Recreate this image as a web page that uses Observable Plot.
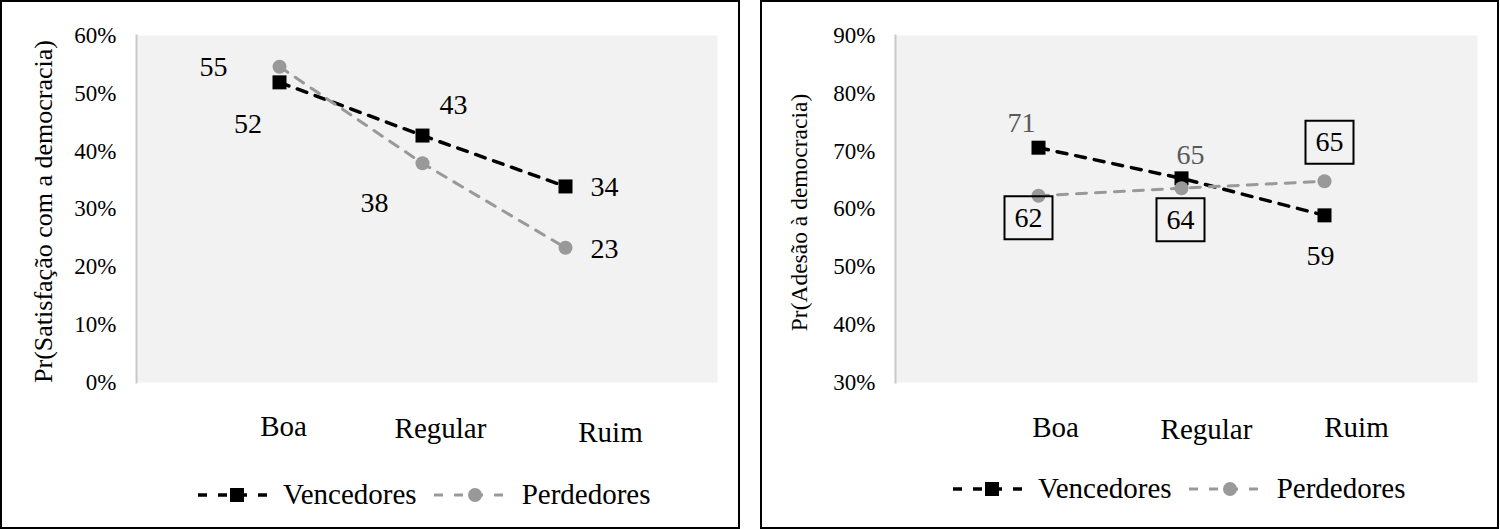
<!DOCTYPE html>
<html><head><meta charset="utf-8">
<script src="https://cdn.jsdelivr.net/npm/d3@7"></script>
<script src="https://cdn.jsdelivr.net/npm/@observablehq/plot@0.6"></script>
<style>
body{margin:0;width:1500px;height:529px;background:#fff;overflow:hidden;font-family:"Liberation Serif","Tinos","Times New Roman","DejaVu Serif",serif;}
.panel{position:absolute;top:0;height:529px;border:2px solid #000;box-sizing:border-box;background:#fff;}
.panel > svg{position:absolute;left:0;top:0;}
.panel svg text{font-family:"Liberation Serif","Tinos","Times New Roman","DejaVu Serif",serif;}
.legend{position:absolute;display:flex;align-items:center;font-size:29px;line-height:29px;white-space:nowrap;color:#000;}
.legend svg{display:block;}
.legend .t{margin-left:15px;}
.legend .gap{width:17px;}
</style></head><body>
<div class="panel" id="p1" style="left:0;width:740px"></div>
<div class="panel" id="p2" style="left:760px;width:739px"></div>
<script>
// ---------- data ----------
const categories = ["Boa", "Regular", "Ruim"];
const seriesNames = ["Vencedores", "Perdedores"];
const satisfacaoVencedores = [51.9, 42.7, 33.9];
const satisfacaoPerdedores = [54.6, 37.9, 23.3];
const adesaoVencedores = [70.6, 65.3, 58.9];
const adesaoPerdedores = [62.3, 63.6, 64.8];
const satisfacaoTicks = [0, 10, 20, 30, 40, 50, 60];
const adesaoTicks = [30, 40, 50, 60, 70, 80, 90];
const satisfacaoTitle = "Pr(Satisfação com a democracia)";
const adesaoTitle = "Pr(Adesão à democracia)";

function rowsOf(v, p) {
  const out = [];
  categories.forEach((c, i) => out.push({cat: c, series: seriesNames[0], value: v[i]}));
  categories.forEach((c, i) => out.push({cat: c, series: seriesNames[1], value: p[i]}));
  return out;
}

const FONT = "'Liberation Serif', 'Tinos', 'Times New Roman', 'DejaVu Serif', serif";
const BLACK = "#000000";
const GRAY = "#999999";

const boxSymbol = {
  draw(ctx) {
    ctx.moveTo(-24, -21.5); ctx.lineTo(24, -21.5); ctx.lineTo(24, 21.5); ctx.lineTo(-24, 21.5); ctx.closePath();
  }
};

function pick(rows, s, c) { return rows.filter(d => d.series === s && d.cat === c); }

function valueLabel(rows, s, c, dx, dy, fill = BLACK) {
  return Plot.text(pick(rows, s, c), {
    x: "cat", y: "value", text: d => String(Math.round(d.value)),
    dx, dy, fill, fontSize: 28, fontFamily: FONT, lineAnchor: "middle", textAnchor: "middle"
  });
}
function boxedLabel(rows, s, c, dx, dy) {
  return [
    Plot.dot(pick(rows, s, c), {x: "cat", y: "value", dx, dy, symbol: boxSymbol, r: 5, fill: "none", stroke: BLACK, strokeWidth: 2}),
    valueLabel(rows, s, c, dx, dy)
  ];
}
function xLabel(c, dx, dy) {
  return Plot.text([c], {x: d => d, frameAnchor: "bottom", text: d => d, dx, dy, fontSize: 29, fontFamily: FONT, fill: BLACK, lineAnchor: "middle", textAnchor: "middle"});
}

function panel({rows, ticks, title, width, marginLeft, marginRight, insetRight, titleDx, titleDy, titleSize, xOffsets, labels}) {
  const V = rows.filter(d => d.series === seriesNames[0]);
  const P = rows.filter(d => d.series === seriesNames[1]);
  return Plot.plot({
    width, height: 460,
    marginLeft, marginRight, marginTop: 33, marginBottom: 80,
    insetRight,
    style: {fontFamily: FONT, background: "transparent", color: BLACK, overflow: "visible"},
    x: {type: "point", domain: categories, padding: 1, axis: null},
    y: {domain: [ticks[0], ticks[ticks.length - 1]], axis: null},
    marks: [
      Plot.frame({fill: "#f2f2f2"}),
      Plot.frame({anchor: "left", stroke: "#c9c9c9", strokeWidth: 2}),
      Plot.axisY({ticks, tickSize: 0, tickPadding: 20, tickFormat: d => d + "%", fontSize: 23, fontFamily: FONT, label: null, fill: BLACK}),
      Plot.text([title], {frameAnchor: "left", textAnchor: "middle", lineAnchor: "middle", rotate: -90, dx: titleDx, dy: titleDy, text: d => d, fontSize: titleSize, fontFamily: FONT, fill: BLACK}),
      ...categories.map((c, i) => xLabel(c, xOffsets[i][0], xOffsets[i][1])),
      Plot.line(V, {x: "cat", y: "value", stroke: BLACK, strokeWidth: 3.5, strokeDasharray: "10,9"}),
      Plot.dot(V, {x: "cat", y: "value", symbol: "square", r: 7.9, fill: BLACK}),
      Plot.line(P, {x: "cat", y: "value", stroke: GRAY, strokeWidth: 3, strokeDasharray: "10,9"}),
      Plot.dot(P, {x: "cat", y: "value", symbol: "circle", r: 7, fill: GRAY}),
      ...labels
    ]
  });
}

const rows1 = rowsOf(satisfacaoVencedores, satisfacaoPerdedores);
const rows2 = rowsOf(adesaoVencedores, adesaoPerdedores);
const [S0, S1] = seriesNames;

const chart1 = panel({
  rows: rows1, ticks: satisfacaoTicks, title: satisfacaoTitle,
  width: 736, marginLeft: 134, marginRight: 21, insetRight: 9,
  titleDx: -92.5, titleDy: 2.5, titleSize: 26,
  xOffsets: [[4, 44.5], [18, 46.5], [45, 50.5]],
  labels: [
    valueLabel(rows1, S1, "Boa", -66, 0),
    valueLabel(rows1, S0, "Boa", -31.5, 42),
    valueLabel(rows1, S0, "Regular", 31, -31),
    valueLabel(rows1, S1, "Regular", -48, 40),
    valueLabel(rows1, S0, "Ruim", 39, 1),
    valueLabel(rows1, S1, "Ruim", 39, 1)
  ]
});

const chart2 = panel({
  rows: rows2, ticks: adesaoTicks, title: adesaoTitle,
  width: 735, marginLeft: 133, marginRight: 20, insetRight: 10,
  titleDx: -96.5, titleDy: 3.5, titleSize: 23.5,
  xOffsets: [[17, 45.5], [25, 47.5], [32, 45.5]],
  labels: [
    valueLabel(rows2, S0, "Boa", -17, -24.5, "#595959"),
    valueLabel(rows2, S0, "Regular", 9, -23, "#595959"),
    valueLabel(rows2, S0, "Ruim", -4, 41),
    ...boxedLabel(rows2, S1, "Boa", -10, 22),
    ...boxedLabel(rows2, S1, "Regular", -1, 31.5),
    ...boxedLabel(rows2, S1, "Ruim", 5, -39)
  ]
});

document.getElementById("p1").appendChild(chart1);
document.getElementById("p2").appendChild(chart2);

function legend(left, top) {
  const d = document.createElement("div");
  d.className = "legend";
  d.style.left = left + "px";
  d.style.top = top + "px";
  const icon = (color, w, marker) =>
    `<svg width="70" height="29"><line x1="0" x2="70" y1="15" y2="15" stroke="${color}" stroke-width="${w}" stroke-dasharray="9,11"/>${marker}</svg>`;
  d.innerHTML =
    icon(BLACK, 3.5, `<rect x="32" y="8" width="14" height="14" fill="${BLACK}"/>`) +
    `<span class="t">${seriesNames[0]}</span><span class="gap"></span>` +
    icon(GRAY, 3, `<circle cx="41" cy="15" r="7" fill="${GRAY}"/>`) +
    `<span class="t" style="margin-left:18px">${seriesNames[1]}</span>`;
  return d;
}
document.getElementById("p1").appendChild(legend(196, 478));
document.getElementById("p2").appendChild(legend(191, 472));
</script>
</body></html>
